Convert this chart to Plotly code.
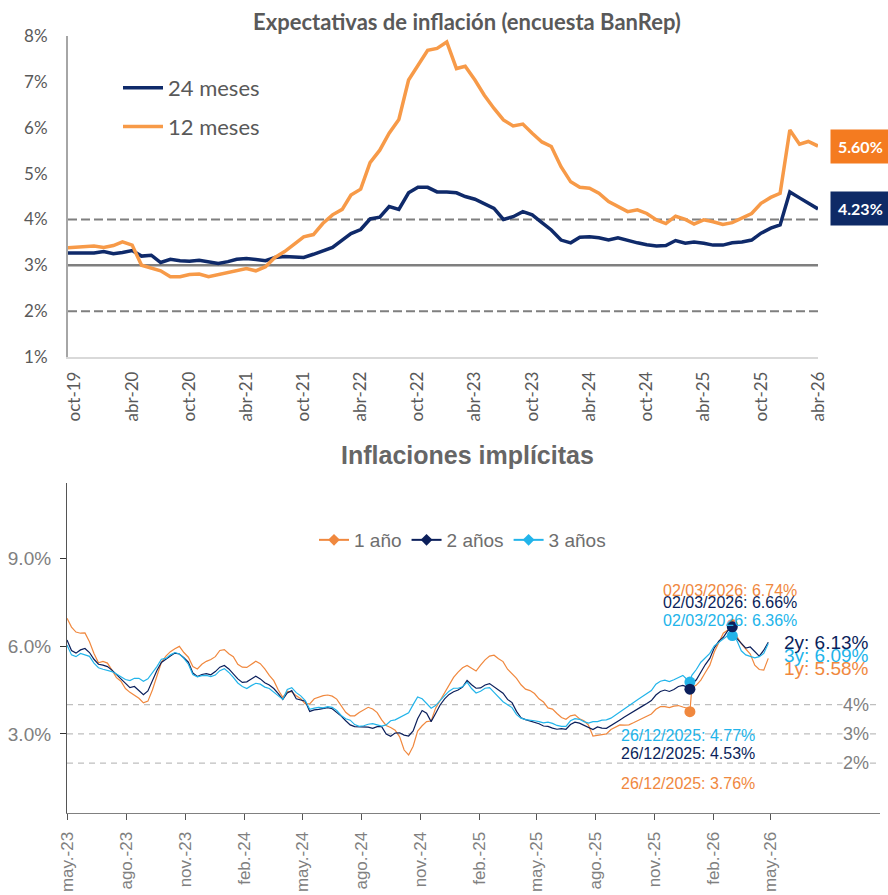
import pandas as pd
import plotly.graph_objects as go

# ---------------- Panel 1: BanRep survey expectations (monthly, from Sep-2019) ----------------
SURVEY_START = "2019-09-01"
SURVEY_VIEW = ["2019-09-09", "2026-04-01"]
EXP_24M = [3.27,
           3.27, 3.26, 3.27, 3.30, 3.25, 3.28, 3.32, 3.20, 3.22, 3.06,
           3.13, 3.10, 3.09, 3.11, 3.07, 3.04, 3.08, 3.13, 3.15, 3.13,
           3.10, 3.17, 3.19, 3.18, 3.17, 3.24, 3.31, 3.39, 3.55, 3.69,
           3.78, 4.01, 4.05, 4.28, 4.22, 4.58, 4.70, 4.70, 4.60, 4.60,
           4.58, 4.50, 4.44, 4.35, 4.24, 4.00, 4.06, 4.17, 4.10, 3.93,
           3.77, 3.55, 3.49, 3.61, 3.62, 3.60, 3.55, 3.60, 3.54, 3.49,
           3.45, 3.42, 3.43, 3.54, 3.48, 3.51, 3.48, 3.44, 3.44, 3.49,
           3.51, 3.55, 3.70, 3.81, 3.88, 4.60, 4.47, 4.36, 4.23]
EXP_12M = [3.38,
           3.39, 3.40, 3.42, 3.39, 3.43, 3.51, 3.44, 3.00, 2.93, 2.88,
           2.75, 2.75, 2.80, 2.81, 2.75, 2.80, 2.85, 2.88, 2.93, 2.88,
           2.97, 3.17, 3.30, 3.46, 3.62, 3.67, 3.91, 4.10, 4.22, 4.53,
           4.66, 5.24, 5.51, 5.88, 6.18, 7.04, 7.37, 7.69, 7.73, 7.87,
           7.29, 7.34, 7.04, 6.71, 6.42, 6.17, 6.04, 6.08, 5.88, 5.69,
           5.59, 5.15, 4.82, 4.70, 4.68, 4.57, 4.39, 4.28, 4.17, 4.21,
           4.13, 3.99, 3.91, 4.07, 4.00, 3.90, 3.99, 3.95, 3.89, 3.93,
           4.02, 4.13, 4.35, 4.48, 4.57, 5.95, 5.64, 5.70, 5.60]
SURVEY_TICKS = ["2019-10-01", "2020-04-01", "2020-10-01", "2021-04-01", "2021-10-01",
                "2022-04-01", "2022-10-01", "2023-04-01", "2023-10-01", "2024-04-01",
                "2024-10-01", "2025-04-01", "2025-10-01", "2026-04-01"]
SURVEY_TICK_TEXT = ["oct-19", "abr-20", "oct-20", "abr-21", "oct-21", "abr-22", "oct-22",
                    "abr-23", "oct-23", "abr-24", "oct-24", "abr-25", "oct-25", "abr-26"]
SURVEY_Y_TICKS = [1, 2, 3, 4, 5, 6, 7, 8]
SURVEY_Y_TEXT = ["1%", "2%", "3%", "4%", "5%", "6%", "7%", "8%"]
TARGET_BAND = [2, 4]
TARGET_MID = 3

# ---------------- Panel 2: breakeven inflation (weekly, plus 26/12/2025) ----------------
BE_START = "2023-05-01"
BE_END = "2026-04-27"
BE_EXTRA_DAY = "2025-12-26"
BE_1Y = [6.95, 6.65, 6.48, 6.44, 6.45, 6.15, 5.75, 5.43, 5.48, 5.42,
         5.18, 4.92, 4.80, 4.55, 4.42, 4.32, 4.22, 4.06, 4.12, 4.50,
         5.00, 5.45, 5.66, 5.81, 5.91, 5.99, 5.78, 5.62, 5.30, 5.22,
         5.38, 5.48, 5.54, 5.64, 5.85, 5.88, 5.74, 5.64, 5.38, 5.28,
         5.27, 5.38, 5.48, 5.40, 5.22, 5.00, 4.82, 4.50, 4.25, 4.45,
         4.44, 4.30, 4.20, 4.03, 4.03, 4.20, 4.26, 4.31, 4.33, 4.29,
         4.19, 3.95, 3.74, 3.62, 3.62, 3.73, 3.83, 3.91, 3.85, 3.73,
         3.48, 3.29, 3.22, 3.13, 2.90, 2.45, 2.28, 2.58, 3.10, 3.28,
         3.42, 3.44, 3.88, 4.15, 4.42, 4.68, 4.93, 5.11, 5.26, 5.34,
         5.24, 5.15, 5.35, 5.53, 5.66, 5.69, 5.57, 5.47, 5.21, 5.04,
         4.90, 4.68, 4.53, 4.48, 4.38, 4.20, 4.09, 3.89, 3.85, 3.70,
         3.56, 3.50, 3.62, 3.65, 3.52, 3.45, 3.30, 2.93, 2.96, 2.97,
         3.00, 3.15, 3.22, 3.31, 3.30, 3.31, 3.38, 3.45, 3.53, 3.60,
         3.68, 3.84, 3.93, 3.93, 3.90, 3.95, 3.97, 3.92, 3.88, 3.76,
         4.58, 4.67, 4.84, 5.10, 5.35, 5.80, 6.14, 6.44, 6.55, 6.74,
         6.33, 6.08, 5.90, 5.73, 5.35, 5.20, 5.18, 5.58]
BE_2Y = [6.21, 5.85, 5.76, 5.87, 5.92, 5.78, 5.55, 5.38, 5.35, 5.30,
         5.18, 5.03, 4.88, 4.70, 4.58, 4.62, 4.49, 4.34, 4.47, 4.82,
         5.17, 5.44, 5.56, 5.66, 5.76, 5.73, 5.60, 5.45, 5.08, 4.96,
         5.03, 5.06, 5.02, 5.13, 5.28, 5.34, 5.22, 5.05, 4.88, 4.76,
         4.78, 4.88, 4.97, 4.88, 4.75, 4.67, 4.55, 4.38, 4.18, 4.40,
         4.48, 4.20, 4.16, 4.12, 3.77, 3.82, 3.84, 3.87, 3.90, 3.86,
         3.75, 3.61, 3.45, 3.31, 3.25, 3.24, 3.22, 3.23, 3.19, 3.25,
         3.25, 3.00, 2.92, 3.03, 3.04, 2.96, 2.93, 3.10, 3.52, 3.80,
         3.71, 3.42, 3.70, 3.99, 4.20, 4.35, 4.44, 4.50, 4.60, 4.83,
         4.68, 4.56, 4.57, 4.67, 4.72, 4.60, 4.49, 4.39, 4.18, 4.07,
         3.77, 3.55, 3.49, 3.44, 3.39, 3.35, 3.27, 3.26, 3.20, 3.16,
         3.18, 3.16, 3.32, 3.40, 3.37, 3.30, 3.24, 3.15, 3.24, 3.20,
         3.19, 3.28, 3.38, 3.48, 3.58, 3.68, 3.76, 3.86, 3.95, 4.04,
         4.14, 4.33, 4.45, 4.50, 4.45, 4.52, 4.62, 4.66, 4.60, 4.53,
         4.70, 4.85, 5.12, 5.37, 5.58, 5.94, 6.17, 6.30, 6.53, 6.66,
         6.26, 6.10, 5.93, 5.97, 5.81, 5.66, 5.86, 6.13]
BE_3Y = [6.04, 5.70, 5.64, 5.75, 5.70, 5.65, 5.42, 5.26, 5.21, 5.16,
         5.13, 5.05, 4.95, 4.86, 4.82, 4.90, 4.90, 4.80, 4.88, 5.08,
         5.30, 5.55, 5.58, 5.70, 5.78, 5.73, 5.58, 5.38, 5.03, 4.95,
         4.99, 5.00, 4.96, 5.01, 5.16, 5.23, 5.10, 4.93, 4.74, 4.62,
         4.55, 4.65, 4.73, 4.70, 4.60, 4.55, 4.43, 4.33, 4.18, 4.52,
         4.58, 4.41, 4.30, 4.14, 3.84, 3.88, 3.91, 3.89, 3.93, 3.91,
         3.80, 3.63, 3.52, 3.47, 3.32, 3.26, 3.28, 3.33, 3.35, 3.31,
         3.27, 3.31, 3.45, 3.48, 3.56, 3.62, 3.72, 4.00, 4.26, 4.20,
         4.05, 3.88, 3.97, 4.16, 4.31, 4.46, 4.56, 4.56, 4.61, 4.77,
         4.55, 4.40, 4.46, 4.56, 4.58, 4.42, 4.26, 4.10, 4.00, 3.90,
         3.66, 3.54, 3.49, 3.48, 3.45, 3.42, 3.38, 3.40, 3.36, 3.29,
         3.26, 3.26, 3.45, 3.52, 3.50, 3.42, 3.37, 3.42, 3.42, 3.47,
         3.48, 3.54, 3.65, 3.77, 3.88, 3.98, 4.08, 4.18, 4.28, 4.38,
         4.48, 4.70, 4.80, 4.84, 4.79, 4.85, 4.92, 5.00, 4.85, 4.77,
         5.00, 5.20, 5.45, 5.59, 5.75, 6.01, 6.13, 6.24, 6.36, 6.36,
         6.20, 5.84, 5.70, 5.65, 5.60, 5.64, 5.75, 6.09]
BE_HIGHLIGHT_DAYS = ["2025-12-26", "2026-03-02"]
BE_TICKS = ["2023-05-01", "2023-08-01", "2023-11-01", "2024-02-01", "2024-05-01",
            "2024-08-01", "2024-11-01", "2025-02-01", "2025-05-01", "2025-08-01",
            "2025-11-01", "2026-02-01", "2026-05-01"]
BE_TICK_TEXT = ["may.-23", "ago.-23", "nov.-23", "feb.-24", "may.-24", "ago.-24",
                "nov.-24", "feb.-25", "may.-25", "ago.-25", "nov.-25", "feb.-26", "may.-26"]
BE_Y_TICKS = [3, 6, 9]
BE_Y_TEXT = ["3.0%", "6.0%", "9.0%"]
BE_GUIDES = [4, 3, 2]

# ---------------- styling ----------------
W, H = 888, 895
ORANGE_TOP, NAVY_TOP = "#F79A48", "#0F2A6A"
ORANGE_BOX, NAVY_BOX = "#F47B20", "#0E2A66"
C1Y, C2Y, C3Y = "#F0883E", "#0B1F5B", "#22B4EA"
GRAY_TXT = "#595959"
CAL = "Lato, 'Open Sans', sans-serif"
ARIAL = "'Liberation Sans', Arial, sans-serif"


def px_x(p):
    return p / W


def px_y(p):
    return 1 - p / H


survey_dates = pd.date_range(SURVEY_START, periods=len(EXP_12M), freq="MS")
be_dates = list(pd.date_range(BE_START, BE_END, freq="7D"))
be_dates = sorted(be_dates + [pd.Timestamp(BE_EXTRA_DAY)])

fig = go.Figure()

# --- top panel lines ---
fig.add_trace(go.Scatter(x=survey_dates, y=EXP_24M, mode="lines", name="24 meses",
                         line=dict(color=NAVY_TOP, width=3.5), xaxis="x", yaxis="y",
                         legend="legend", legendgroup="a"))
fig.add_trace(go.Scatter(x=survey_dates, y=EXP_12M, mode="lines", name="12 meses",
                         line=dict(color=ORANGE_TOP, width=3.5), xaxis="x", yaxis="y",
                         legend="legend", legendgroup="b"))

# --- bottom panel lines ---
for vals, col in [(BE_1Y, C1Y), (BE_2Y, C2Y), (BE_3Y, C3Y)]:
    fig.add_trace(go.Scatter(x=be_dates, y=vals, mode="lines", showlegend=False,
                             line=dict(color=col, width=1.2), xaxis="x2", yaxis="y2",
                             hoverinfo="skip"))

# highlighted observations
series_map = {"1y": (BE_1Y, C1Y), "3y": (BE_3Y, C3Y), "2y": (BE_2Y, C2Y)}
for key, (vals, col) in series_map.items():
    hx, hy = [], []
    for d in BE_HIGHLIGHT_DAYS:
        i = be_dates.index(pd.Timestamp(d))
        hx.append(be_dates[i])
        hy.append(vals[i])
    fig.add_trace(go.Scatter(x=hx, y=hy, mode="markers", showlegend=False,
                             marker=dict(color=col, size=11), xaxis="x2", yaxis="y2"))

# legend entries for bottom panel
for name, col in [("1 año", C1Y), ("2 años", C2Y), ("3 años", C3Y)]:
    fig.add_trace(go.Scatter(x=[None], y=[None], mode="lines+markers", name=name,
                             line=dict(color=col, width=2),
                             marker=dict(color=col, size=9, symbol="diamond"),
                             xaxis="x2", yaxis="y2", legend="legend2"))

shapes = []
for lvl in TARGET_BAND:
    shapes.append(dict(type="line", xref="x domain", yref="y", x0=0, x1=1, y0=lvl, y1=lvl,
                       line=dict(color="#7F7F7F", width=2, dash="9px,4px"), layer="below"))
shapes.append(dict(type="line", xref="x domain", yref="y", x0=0, x1=1, y0=TARGET_MID,
                   y1=TARGET_MID, line=dict(color="#7F7F7F", width=2.5), layer="below"))
for lvl in BE_GUIDES:
    shapes.append(dict(type="line", xref="x2 domain", yref="y2", x0=0, x1=1, y0=lvl, y1=lvl,
                       line=dict(color="#BFBFBF", width=1.2, dash="6px,5px"), layer="below"))

ann = []
ann.append(dict(text="<b>Expectativas de inflación (encuesta BanRep)</b>", xref="paper",
                yref="paper", x=px_x(467), y=px_y(22), xanchor="center", yanchor="middle",
                showarrow=False, font=dict(family=CAL, size=22, color=GRAY_TXT)))
ann.append(dict(text="<b>Inflaciones implícitas</b>", xref="paper", yref="paper",
                x=px_x(467), y=px_y(455), xanchor="center", yanchor="middle",
                showarrow=False, font=dict(family=ARIAL, size=25, color="#666666")))

for vals, col in [(EXP_12M, ORANGE_BOX), (EXP_24M, NAVY_BOX)]:
    ann.append(dict(text=f"<b>{vals[-1]:.2f}%</b>", x=survey_dates[-1], y=vals[-1],
                    xref="x", yref="y", xanchor="left", yanchor="middle", xshift=12,
                    showarrow=False, bgcolor=col, borderpad=7,
                    font=dict(family=CAL, size=16, color="white")))

label_shift = {
    ("2026-03-02", "1y"): 34, ("2026-03-02", "2y"): 24, ("2026-03-02", "3y"): 15,
    ("2025-12-26", "3y"): -53, ("2025-12-26", "2y"): -64, ("2025-12-26", "1y"): -72,
}
for (d, key), ys in label_shift.items():
    vals, col = series_map[key]
    i = be_dates.index(pd.Timestamp(d))
    txt = pd.Timestamp(d).strftime("%d/%m/%Y") + f": {vals[i]:.2f}%"
    ann.append(dict(text=txt, x=be_dates[i], y=vals[i], xref="x2", yref="y2",
                    xanchor="center", yanchor="middle", xshift=-2, yshift=ys,
                    showarrow=False, font=dict(family=ARIAL, size=16, color=col)))

for key, ys in [("1y", -10), ("3y", -12), ("2y", 0)]:
    vals, col = series_map[key]
    ann.append(dict(text=f"{key}: {vals[-1]:.2f}%", x=be_dates[-1], y=vals[-1],
                    xref="x2", yref="y2", xanchor="left", yanchor="middle",
                    xshift=14, yshift=ys, showarrow=False,
                    font=dict(family=ARIAL, size=19, color=col)))

for lvl in BE_GUIDES:
    ann.append(dict(text=f"{lvl}%", x=px_x(856), y=lvl, xref="paper", yref="y2",
                    xanchor="center", yanchor="middle", showarrow=False,
                    bgcolor="white", borderpad=0,
                    font=dict(family=ARIAL, size=18, color="#808080")))

fig.update_layout(
    width=W, height=H, margin=dict(l=0, r=0, t=0, b=0),
    paper_bgcolor="white", plot_bgcolor="white",
    shapes=shapes, annotations=ann,
    xaxis=dict(domain=[px_x(68), px_x(818)], type="date", anchor="y", automargin=False,
               range=SURVEY_VIEW,
               tickvals=SURVEY_TICKS, ticktext=SURVEY_TICK_TEXT, tickangle=-90,
               showline=True, linecolor="#D9D9D9", linewidth=1.5, ticks="",
               showgrid=False, zeroline=False, ticklabelstandoff=6,
               tickfont=dict(family=CAL, size=17, color=GRAY_TXT)),
    yaxis=dict(domain=[px_y(357), px_y(36)], range=[1, 8], anchor="x", automargin=False,
               tickvals=SURVEY_Y_TICKS, ticktext=SURVEY_Y_TEXT,
               showline=True, linecolor="#A6A6A6", linewidth=2,
               ticks="", showgrid=False, zeroline=False, ticklabelstandoff=15,
               tickfont=dict(family=CAL, size=17, color=GRAY_TXT)),
    xaxis2=dict(domain=[px_x(67), px_x(880)], type="date", anchor="y2", automargin=False,
                range=["2023-05-01", "2026-10-18"],
                tickvals=BE_TICKS, ticktext=BE_TICK_TEXT, tickangle=-90,
                showline=True, linecolor="#808080", linewidth=1.2,
                ticks="outside", ticklen=6, tickcolor="#555555",
                showgrid=False, zeroline=False, ticklabelstandoff=5,
                tickfont=dict(family=ARIAL, size=17, color="#808080")),
    yaxis2=dict(domain=[px_y(813), px_y(483)], range=[0.3, 11.57], anchor="x2",
                automargin=False, tickvals=BE_Y_TICKS, ticktext=BE_Y_TEXT,
                showline=True, linecolor="#555555", linewidth=1.2,
                ticks="outside", ticklen=6, tickcolor="#333333",
                showgrid=False, zeroline=False, ticklabelstandoff=5,
                tickfont=dict(family=ARIAL, size=19, color="#808080")),
    legend=dict(x=px_x(118), y=px_y(67), xanchor="left", yanchor="top",
                bgcolor="rgba(0,0,0,0)", tracegroupgap=7, traceorder="grouped",
                font=dict(family=CAL, size=22, color=GRAY_TXT), itemwidth=40),
    legend2=dict(orientation="h", x=px_x(314), y=px_y(540), xanchor="left",
                 yanchor="middle", bgcolor="rgba(0,0,0,0)",
                 font=dict(family=ARIAL, size=19, color="#6E6E6E")),
    showlegend=True,
)

fig.write_html("out.html")
